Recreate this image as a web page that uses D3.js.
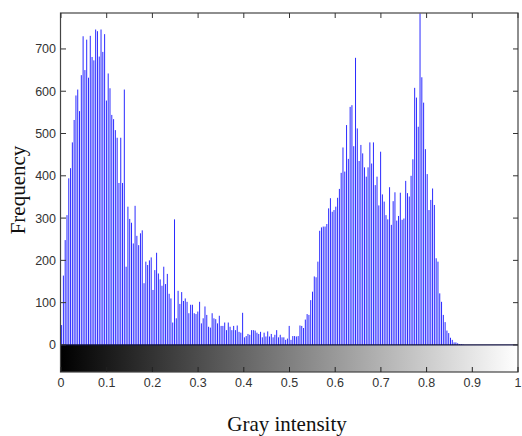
<!DOCTYPE html>
<html>
<head>
<meta charset="utf-8">
<title>Gray intensity histogram</title>
<script src="https://d3js.org/d3.v7.min.js"></script>
<style>
  body { margin: 0; background: #fff; }
  .tick-label { font-family: "Liberation Sans", Arial, sans-serif; font-size: 12.5px; fill: #333; }
  .axis-title { font-family: "Liberation Serif", "Times New Roman", serif; font-size: 21px; fill: #111; }
</style>
</head>
<body>
<div id="chart"></div>
<script>
// histogram counts, 256 bins of gray intensity
var counts = [
  47,164,248,307,394,418,479,532,590,604,
  553,638,730,650,722,632,731,681,673,746,
  742,682,746,693,735,578,642,607,544,534,
  508,490,383,490,383,604,185,327,298,289,
  240,329,258,236,264,271,146,197,189,200,
  207,130,177,218,169,155,140,185,144,168,
  121,110,53,297,63,128,97,125,104,110,
  102,75,95,95,75,73,79,102,51,63,
  91,71,43,41,75,63,61,51,69,45,
  45,53,35,53,43,35,45,35,46,31,
  29,76,18,21,26,24,35,35,34,29,
  26,31,18,29,20,32,20,26,18,24,
  35,18,24,18,18,12,15,45,12,21,
  21,20,21,46,45,40,60,73,71,106,
  126,162,160,197,270,278,280,280,286,323,
  347,315,319,327,348,369,407,467,410,520,
  440,563,567,470,679,512,435,473,453,420,
  398,420,479,429,479,378,398,330,457,356,
  339,307,297,373,284,340,361,294,305,360,
  296,299,388,359,351,400,439,608,585,516,
  784,633,573,463,404,319,343,370,331,205,
  197,122,102,71,54,34,28,17,12,6,
  6,4,2,2,1,0,0,0,0,0,
  0,0,0,0,0,0,0,0,0,0,
  0,0,0,0,0,0,0,0,0,0,
  0,0,0,0,0,0
];
var yTicks = [0, 100, 200, 300, 400, 500, 600, 700];
var xTicks = [0, 0.1, 0.2, 0.3, 0.4, 0.5, 0.6, 0.7, 0.8, 0.9, 1];
var xTickLabels = ["0", "0.1", "0.2", "0.3", "0.4", "0.5", "0.6", "0.7", "0.8", "0.9", "1"];

var W = 522, H = 436;
var plotLeft = 61, plotRight = 518, plotTop = 13, plotBottom = 372;

var svg = d3.select("#chart").append("svg")
  .attr("width", W).attr("height", H);

var x = d3.scaleLinear().domain([0, 1]).range([plotLeft, plotRight]);
var y = d3.scaleLinear().domain([-64, 785]).range([plotBottom, plotTop]);

// gray colour bar under the zero line
var grad = svg.append("defs").append("linearGradient")
  .attr("id", "gray").attr("x1", "0%").attr("x2", "100%");
grad.append("stop").attr("offset", "0%").attr("stop-color", "#000");
grad.append("stop").attr("offset", "100%").attr("stop-color", "#fff");

svg.append("rect")
  .attr("x", x(0)).attr("y", y(0))
  .attr("width", x(1) - x(0)).attr("height", y(-64) - y(0))
  .attr("fill", "url(#gray)");

// bars (thin, so the white gaps show like the original)
var bw = 1.0;
svg.selectAll("rect.bar")
  .data(counts)
  .enter().append("rect")
  .attr("class", "bar")
  .attr("x", function(d, i) { return x(i / 255) - bw / 2 + 0.6; })
  .attr("y", function(d) { return y(d); })
  .attr("width", bw)
  .attr("height", function(d) { return y(0) - y(d); })
  .attr("fill", "#2b2bff");

// zero baseline
svg.append("line")
  .attr("x1", x(0)).attr("x2", x(1))
  .attr("y1", y(0)).attr("y2", y(0))
  .attr("stroke", "#101040").attr("stroke-width", 1.2);

// axes box
svg.append("rect")
  .attr("x", x(0) - 0.5).attr("y", plotTop)
  .attr("width", x(1) - x(0) + 0.5).attr("height", plotBottom - plotTop)
  .attr("fill", "none").attr("stroke", "#444").attr("stroke-width", 1.2);

// y ticks left and right (inside)
yTicks.forEach(function(t) {
  svg.append("line").attr("x1", x(0)).attr("x2", x(0) + 5)
    .attr("y1", y(t)).attr("y2", y(t)).attr("stroke", "#333");
  svg.append("line").attr("x1", x(1)).attr("x2", x(1) - 5)
    .attr("y1", y(t)).attr("y2", y(t)).attr("stroke", "#333");
  svg.append("text").attr("class", "tick-label")
    .attr("x", x(0) - 5).attr("y", y(t) + 4.5)
    .attr("text-anchor", "end").text(t);
});

// x ticks bottom and top (inside)
xTicks.forEach(function(t, i) {
  svg.append("line").attr("x1", x(t)).attr("x2", x(t))
    .attr("y1", plotBottom).attr("y2", plotBottom - 5).attr("stroke", "#222");
  svg.append("line").attr("x1", x(t)).attr("x2", x(t))
    .attr("y1", plotTop).attr("y2", plotTop + 5).attr("stroke", "#333");
  svg.append("text").attr("class", "tick-label")
    .attr("x", x(t)).attr("y", plotBottom + 15)
    .attr("text-anchor", "middle").text(xTickLabels[i]);
});

// axis titles
svg.append("text").attr("class", "axis-title")
  .attr("x", 287).attr("y", 431)
  .attr("text-anchor", "middle").text("Gray intensity");

svg.append("text").attr("class", "axis-title")
  .attr("transform", "translate(25,190) rotate(-90)")
  .attr("text-anchor", "middle").text("Frequency");
</script>
</body>
</html>
